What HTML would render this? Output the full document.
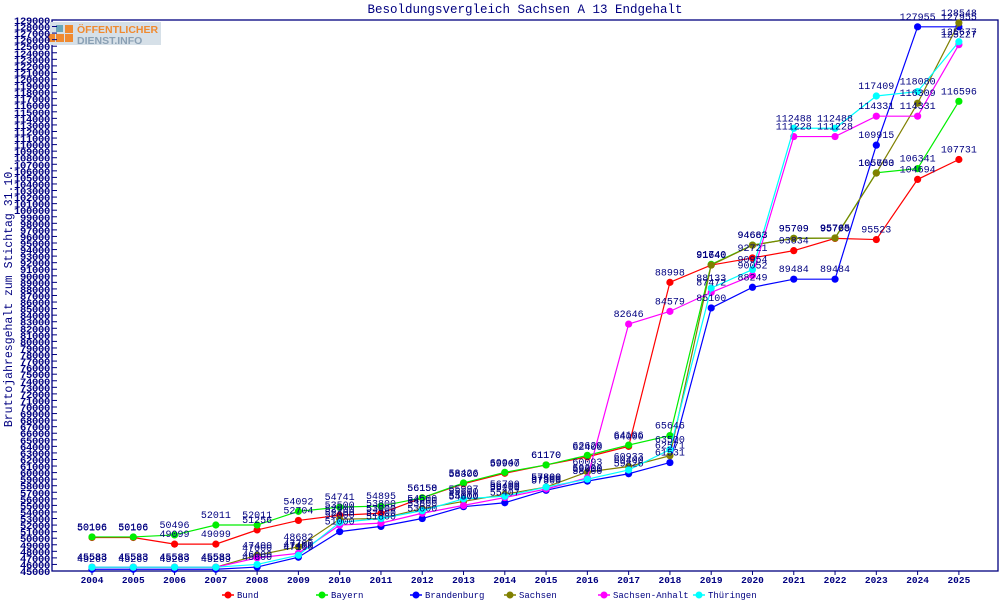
<!DOCTYPE html>
<html><head><meta charset="utf-8">
<style>
html,body{margin:0;padding:0;background:#fff;}
svg{display:block;font-family:"Liberation Mono","DejaVu Sans Mono",monospace;}
text{fill:#000080;}
.yt text{font-size:10.5px;font-weight:bold;letter-spacing:-0.3px;}
.v text{font-size:10px;}
</style></head><body>
<svg id="c" width="1000" height="600" viewBox="0 0 1000 600" xmlns="http://www.w3.org/2000/svg">
<rect x="0" y="0" width="1000" height="600" fill="#fff"/>
<text x="525" y="13" text-anchor="middle" font-size="12.5">Besoldungsvergleich Sachsen A 13 Endgehalt</text>
<text transform="translate(12,296) rotate(-90)" text-anchor="middle" font-size="11.5">Bruttojahresgehalt zum Stichtag 31.10.</text>
<rect x="52" y="20" width="946" height="551" fill="none" stroke="#000080" stroke-width="1.3"/>
<g>
<rect x="50" y="22" width="111" height="23" fill="#d6e0e8"/>
<rect x="56" y="25" width="7" height="7" fill="#6aa7b8"/>
<rect x="65" y="25" width="8" height="8" fill="#f08a30"/>
<rect x="48" y="34" width="7" height="8" fill="#f08a30"/>
<rect x="56" y="34" width="8" height="8" fill="#f08a30"/>
<rect x="65" y="34" width="8" height="8" fill="#f08a30"/>
<text x="77" y="33" font-family="Liberation Sans,sans-serif" font-weight="bold" font-size="10.5" style="fill:#f08a30">ÖFFENTLICHER</text>
<text x="77" y="44" font-family="Liberation Sans,sans-serif" font-weight="bold" font-size="10.5" style="fill:#8aa0b4">DIENST.INFO</text>
</g>
<g id="ticks" stroke="#000080" stroke-width="1"></g>
<g class="yt" id="yl" text-anchor="end">
<text>45000</text><text>46000</text><text>47000</text><text>48000</text><text>49000</text><text>50000</text><text>51000</text><text>52000</text><text>53000</text><text>54000</text><text>55000</text><text>56000</text><text>57000</text><text>58000</text><text>59000</text><text>60000</text><text>61000</text><text>62000</text><text>63000</text><text>64000</text><text>65000</text><text>66000</text><text>67000</text><text>68000</text><text>69000</text><text>70000</text><text>71000</text><text>72000</text><text>73000</text><text>74000</text><text>75000</text><text>76000</text><text>77000</text><text>78000</text><text>79000</text><text>80000</text><text>81000</text><text>82000</text><text>83000</text><text>84000</text><text>85000</text><text>86000</text><text>87000</text><text>88000</text><text>89000</text><text>90000</text><text>91000</text><text>92000</text><text>93000</text><text>94000</text><text>95000</text><text>96000</text><text>97000</text><text>98000</text><text>99000</text><text>100000</text><text>101000</text><text>102000</text><text>103000</text><text>104000</text><text>105000</text><text>106000</text><text>107000</text><text>108000</text><text>109000</text><text>110000</text><text>111000</text><text>112000</text><text>113000</text><text>114000</text><text>115000</text><text>116000</text><text>117000</text><text>118000</text><text>119000</text><text>120000</text><text>121000</text><text>122000</text><text>123000</text><text>124000</text><text>125000</text><text>126000</text><text>127000</text><text>128000</text><text>129000</text>
</g>
<g id="xl" font-size="9.5" font-weight="bold" text-anchor="middle">
<text>2004</text><text>2005</text><text>2006</text><text>2007</text><text>2008</text><text>2009</text><text>2010</text><text>2011</text><text>2012</text><text>2013</text><text>2014</text><text>2015</text><text>2016</text><text>2017</text><text>2018</text><text>2019</text><text>2020</text><text>2021</text><text>2022</text><text>2023</text><text>2024</text><text>2025</text>
</g>
<g id="lines"></g>
<g class="v" id="s0" text-anchor="middle"><text>50106</text><text>50106</text><text>49099</text><text>49099</text><text>51256</text><text>52704</text><text>53500</text><text>53800</text><text>56150</text><text>58300</text><text>59900</text><text>61170</text><text>62400</text><text>64000</text><text>88998</text><text>91640</text><text>92721</text><text>93834</text><text>95700</text><text>95523</text><text>104694</text><text>107731</text></g>
<g class="v" id="s1" text-anchor="middle"><text>50196</text><text>50196</text><text>50496</text><text>52011</text><text>52011</text><text>54092</text><text>54741</text><text>54895</text><text>56158</text><text>58426</text><text>60047</text><text>61170</text><text>62629</text><text>64196</text><text>65646</text><text>91740</text><text>94683</text><text>95709</text><text>95765</text><text>105700</text><text>106341</text><text>116596</text></g>
<g class="v" id="s2" text-anchor="middle"><text>45269</text><text>45269</text><text>45269</text><text>45269</text><text>45600</text><text>47100</text><text>51000</text><text>51800</text><text>53000</text><text>54800</text><text>55407</text><text>57300</text><text>58700</text><text>59826</text><text>61531</text><text>85100</text><text>88249</text><text>89484</text><text>89484</text><text>109915</text><text>127955</text><text>127955</text></g>
<g class="v" id="s3" text-anchor="middle"><text>45583</text><text>45583</text><text>45583</text><text>45583</text><text>47400</text><text>48682</text><text>52900</text><text>53000</text><text>54500</text><text>55600</text><text>56700</text><text>57800</text><text>60093</text><text>60933</text><text>62571</text><text>91640</text><text>94663</text><text>95709</text><text>95765</text><text>105653</text><text>116309</text><text>128548</text></g>
<g class="v" id="s4" text-anchor="middle"><text>45583</text><text>45583</text><text>45583</text><text>45583</text><text>47000</text><text>47700</text><text>52000</text><text>52300</text><text>53800</text><text>55000</text><text>56200</text><text>57500</text><text>59200</text><text>82646</text><text>84579</text><text>87472</text><text>90052</text><text>111228</text><text>111228</text><text>114331</text><text>114331</text><text>125227</text></g>
<g class="v" id="s5" text-anchor="middle"><text>45583</text><text>45583</text><text>45583</text><text>45583</text><text>46000</text><text>47400</text><text>52400</text><text>53000</text><text>54200</text><text>55997</text><text>56400</text><text>57800</text><text>59000</text><text>60400</text><text>63500</text><text>88133</text><text>90954</text><text>112488</text><text>112488</text><text>117409</text><text>118080</text><text>125677</text></g>
<g id="legend" font-size="9">
<text x="237" y="598">Bund</text><text x="331" y="598">Bayern</text><text x="425" y="598">Brandenburg</text><text x="519" y="598">Sachsen</text><text x="613" y="598">Sachsen-Anhalt</text><text x="708" y="598">Thüringen</text>
</g>
</svg>
<script>
var NS="http://www.w3.org/2000/svg";
function Y(v){return 571-(v-45000)*0.00656;}
function X(i){return 92+i*41.28;}
function el(t,a,p){var e=document.createElementNS(NS,t);for(var k in a)e.setAttribute(k,a[k]);p.appendChild(e);return e;}
var tk=document.getElementById('ticks');
var yl=document.getElementById('yl').children;
for(var i=0;i<yl.length;i++){var y=Y(45000+i*1000);yl[i].setAttribute('x',50);yl[i].setAttribute('y',y+4);el('line',{x1:52,x2:57,y1:y,y2:y},tk);}
var xl=document.getElementById('xl').children;
for(var i=0;i<xl.length;i++){var x=X(i);xl[i].setAttribute('x',x);xl[i].setAttribute('y',583);el('line',{x1:x,x2:x,y1:571,y2:575},tk);}
var cols=['#ff0000','#00ee00','#0000ff','#808000','#ff00ff','#00ffff'];
var lg=document.getElementById('lines');
var lx=[222,316,410,504,598,693];
for(var s=0;s<6;s++){
  var ts=document.getElementById('s'+s).children,pts=[];
  for(var i=0;i<ts.length;i++){var v=parseFloat(ts[i].textContent);var x=X(i),y=Y(v);pts.push(x+','+y);ts[i].setAttribute('x',x);ts[i].setAttribute('y',y-7);}
  el('polyline',{points:pts.join(' '),fill:'none',stroke:cols[s],'stroke-width':1.2},lg);
  for(var i=0;i<pts.length;i++){var p=pts[i].split(',');el('circle',{cx:p[0],cy:p[1],r:3.6,fill:cols[s]},lg);}
  el('line',{x1:lx[s],x2:lx[s]+12,y1:595,y2:595,stroke:cols[s],'stroke-width':1.5},lg);
  el('circle',{cx:lx[s]+6,cy:595,r:3.5,fill:cols[s]},lg);
}
</script>
</body></html>
